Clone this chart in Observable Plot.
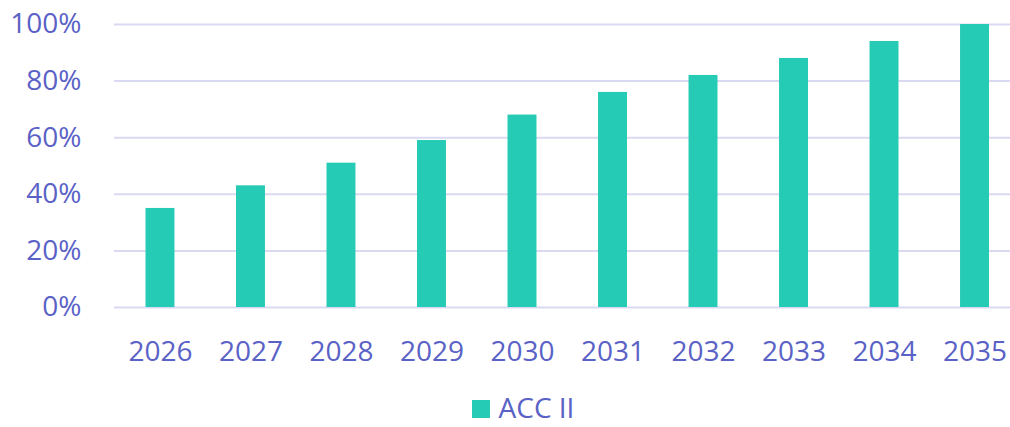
<!DOCTYPE html>
<html>
<head>
<meta charset="utf-8">
<script src="https://cdn.jsdelivr.net/npm/d3@7"></script>
<script src="https://cdn.jsdelivr.net/npm/@observablehq/plot@0.6"></script>
<style>
  html, body { margin: 0; padding: 0; background: #fff; }
  #chart { width: 1010px; }
  .legend { display: flex; justify-content: center; align-items: center; height: 28px; padding-top: 13px; font-family: "Open Sans", sans-serif; font-size: 28px; color: #5a62c6; margin-left: 36px; }
  .legend .sw { width: 18px; height: 18px; background: #26cbb5; margin-right: 9px; margin-top: 4px; }
  .legend .lbl { display: inline-block; height: 28px; line-height: 28px; overflow: visible; }
</style>
</head>
<body>
<div id="chart"></div>
<script>
const years = ["2026","2027","2028","2029","2030","2031","2032","2033","2034","2035"];
const accII = [35, 43, 51, 59, 68, 76, 82, 88, 94, 100];
const yTicks = [0, 20, 40, 60, 80, 100];
const seriesName = "ACC II";

const data = years.map((y, i) => ({year: y, value: accII[i]}));
const textColor = "#5a62c6";

const plot = Plot.plot({
  width: 1010,
  height: 380,
  marginLeft: 114,
  marginRight: 0,
  marginTop: 24,
  marginBottom: 73,
  style: {fontFamily: "Open Sans, sans-serif", fontSize: "28px", color: textColor, background: "#fff"},
  x: {domain: years, paddingInner: 0.68, paddingOuter: 0.29, align: 0.6, round: false, label: null},
  y: {domain: [0, 100], label: null},
  marks: [
    Plot.gridY(yTicks, {stroke: "#d9daf2", strokeOpacity: 1, strokeWidth: 2}),
    Plot.barY(data, {x: "year", y: "value", fill: "#26cbb5"}),
    Plot.axisY(yTicks, {tickSize: 0, tickPadding: 33, tickFormat: d => d + "%", fill: textColor, fontSize: 28}),
    Plot.axisX({tickSize: 0, tickPadding: 34, fill: textColor, fontSize: 28})
  ]
});
plot.style.display = "block";
document.getElementById("chart").appendChild(plot);

const legend = document.createElement("div");
legend.className = "legend";
legend.innerHTML = '<span class="sw"></span><span class="lbl"></span>';
legend.lastChild.textContent = seriesName;
document.getElementById("chart").appendChild(legend);
</script>
</body>
</html>
